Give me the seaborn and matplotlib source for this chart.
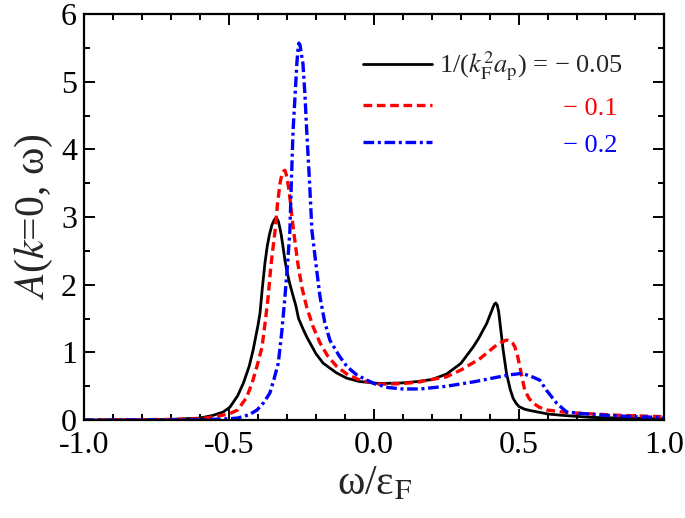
import matplotlib
matplotlib.use("Agg")
import matplotlib.pyplot as plt
import seaborn as sns
import numpy as np

# spectral function A(k=0, w), three interaction strengths
w_005 = [-1.0, -0.8, -0.7, -0.65, -0.6, -0.555, -0.52, -0.497, -0.47, -0.45, -0.43, -0.417,
         -0.40, -0.393, -0.385, -0.376, -0.368, -0.36, -0.352, -0.345, -0.34, -0.335, -0.33,
         -0.325, -0.32, -0.315, -0.307, -0.3, -0.293, -0.285, -0.278, -0.27,
         -0.26, -0.245, -0.232, -0.2, -0.175, -0.13, -0.094, -0.05, 0.02, 0.1, 0.15, 0.2, 0.25,
         0.285, 0.3, 0.342, 0.36, 0.389, 0.40, 0.41, 0.415, 0.42, 0.425, 0.43, 0.435, 0.445,
         0.457, 0.47, 0.48, 0.49, 0.50, 0.52, 0.54, 0.6, 0.65, 0.75, 0.85, 1.0]
A_005 = [0.0, 0.005, 0.01, 0.02, 0.03, 0.07, 0.12, 0.19, 0.36, 0.55, 0.8, 1.03,
         1.4, 1.58, 1.95, 2.32, 2.57, 2.75, 2.88, 2.95, 2.98, 2.98, 2.94,
         2.85, 2.74, 2.6, 2.36, 2.2, 2.06, 1.93, 1.82, 1.7,
         1.5, 1.35, 1.23, 0.98, 0.84, 0.7, 0.62, 0.57, 0.54, 0.55, 0.57, 0.6, 0.68,
         0.79, 0.84, 1.08, 1.2, 1.43, 1.55, 1.66, 1.71, 1.73, 1.7, 1.6, 1.42, 1.05,
         0.69, 0.45, 0.32, 0.25, 0.2, 0.16, 0.14, 0.09, 0.07, 0.04, 0.03, 0.02]

w_01 = [-1.0, -0.7, -0.6, -0.55, -0.5, -0.47, -0.44, -0.42, -0.4, -0.386, -0.375, -0.365,
        -0.355, -0.341, -0.333, -0.324, -0.318, -0.312, -0.307, -0.302, -0.295, -0.289,
        -0.283, -0.272, -0.262, -0.248, -0.232, -0.21, -0.186, -0.16,
        -0.128, -0.09, -0.048, 0.02, 0.1, 0.15, 0.2, 0.25, 0.3, 0.366, 0.423, 0.445, 0.455,
        0.462, 0.47, 0.478, 0.486, 0.495, 0.503, 0.512, 0.52, 0.535, 0.549, 0.57, 0.595, 0.65,
        0.71, 0.85, 1.0]
A_01 = [0.0, 0.01, 0.02, 0.05, 0.09, 0.15, 0.33, 0.55, 0.85, 1.08, 1.45, 1.82,
        2.3, 2.8, 3.18, 3.5, 3.62, 3.68, 3.69, 3.62, 3.45, 3.25,
        3.0, 2.62, 2.3, 1.95, 1.67, 1.38, 1.14, 0.95,
        0.79, 0.67, 0.59, 0.53, 0.54, 0.56, 0.6, 0.64, 0.74, 0.91, 1.11, 1.16, 1.18,
        1.18, 1.17, 1.14, 1.08, 0.95, 0.79, 0.6, 0.44, 0.32, 0.25, 0.19, 0.15, 0.12,
        0.1, 0.07, 0.05]

w_02 = [-1.0, -0.6, -0.5, -0.47, -0.43, -0.403, -0.38, -0.359, -0.345, -0.33, -0.318,
        -0.307, -0.298, -0.29, -0.285, -0.279, -0.272, -0.266, -0.262, -0.259, -0.255,
        -0.252, -0.245, -0.238, -0.232, -0.222, -0.214, -0.2, -0.186, -0.17, -0.152, -0.12,
        -0.093, -0.06, -0.024, 0.0, 0.05, 0.1, 0.16, 0.25, 0.35, 0.42, 0.47, 0.51, 0.54,
        0.572, 0.595, 0.63, 0.664, 0.71, 0.8, 0.9, 1.0]
A_02 = [0.0, 0.005, 0.02, 0.03, 0.08, 0.15, 0.26, 0.4, 0.6, 0.84, 1.3,
        1.82, 2.3, 2.8, 3.5, 4.28, 4.8, 5.27, 5.48, 5.57, 5.54,
        5.45, 5.27, 4.8, 4.28, 3.5, 2.8, 2.3, 1.82, 1.45, 1.18, 0.95,
        0.79, 0.67, 0.59, 0.54, 0.48, 0.46, 0.46, 0.5, 0.57, 0.63, 0.67, 0.69, 0.65,
        0.59, 0.44, 0.25, 0.12, 0.1, 0.07, 0.05, 0.04]

values = ["0.05", "0.1", "0.2"]
colors = ["black", "#ff0000", "#0000ff"]

sns.set_theme(style="ticks")
plt.rcParams["font.family"] = ["Liberation Serif", "DejaVu Serif"]
plt.rcParams["mathtext.fontset"] = "stix"
plt.rcParams["axes.unicode_minus"] = False

fig = plt.figure(figsize=(6.85, 5.18), dpi=100)
ax = fig.add_axes([0.1226, 0.189, 0.8467, 0.784])

head = r"1/($k^2_{\mathrm{F}}a_{\mathrm{p}}$) = " + "\u2212 " + values[0]
sns.lineplot(x=w_005, y=A_005, ax=ax, color=colors[0], lw=2.0, label=head)
sns.lineplot(x=w_01, y=A_01, ax=ax, color=colors[1], lw=2.4,
             linestyle=(0, (2.6, 1.4)), label=" ")
sns.lineplot(x=w_02, y=A_02, ax=ax, color=colors[2], lw=2.4,
             linestyle=(0, (3.2, 1.1, 0.9, 1.1)), label="  ")

ax.set_xlim(-1.0, 1.0)
ax.set_ylim(0, 6)
ax.set_xticks([-1.0, -0.5, 0.0, 0.5, 1.0])
ax.set_xticklabels(["-1.0", "-0.5", "0.0", "0.5", "1.0"])
ax.set_xticks(np.arange(-1.0, 1.01, 0.1), minor=True)
ax.set_yticks(range(7))
ax.set_yticks(np.arange(0, 6.01, 0.5), minor=True)
ax.tick_params(which="both", direction="in", top=True, right=True, width=1.4,
               labelsize=23, colors="black")
ax.tick_params(axis="x", pad=8)
ax.tick_params(axis="y", pad=5)
ax.tick_params(which="major", length=8)
ax.tick_params(which="minor", length=4.5)
for s in ax.spines.values():
    s.set_linewidth(1.6)
    s.set_color("black")

ax.set_xlabel(r"ω/ε$_{\mathrm{F}}$", fontsize=30, labelpad=3)
ax.set_ylabel(r"$A$($k$=0, ω)", fontsize=30, labelpad=4)

leg = ax.legend(loc="upper left", bbox_to_anchor=(0.44, 0.97), frameon=False,
                fontsize=19, handlelength=2.6, handletextpad=0.3, labelspacing=0.5)

# values of the lower two rows, lined up under the first one
for val, c, yy in zip(values[1:], colors[1:], [0.766, 0.675]):
    ax.text(0.826, yy, "\u2212 " + val, transform=ax.transAxes, color=c,
            fontsize=19, va="center", ha="left")

fig.savefig("out.png", dpi=100)
